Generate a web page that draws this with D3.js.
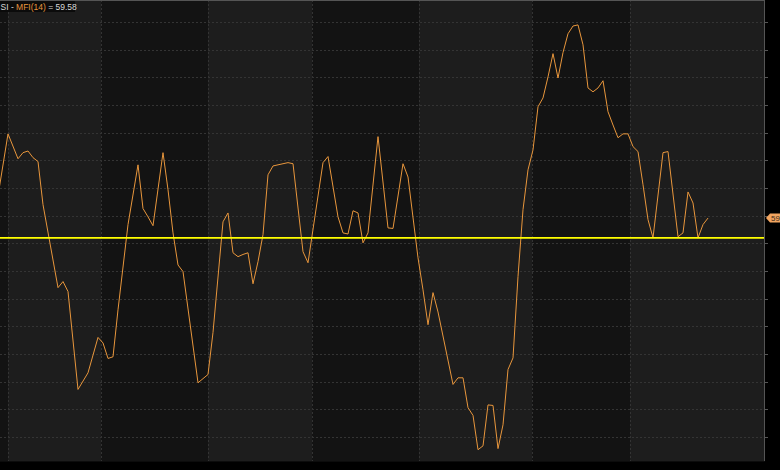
<!DOCTYPE html>
<html><head><meta charset="utf-8">
<script src="https://cdn.jsdelivr.net/npm/d3@7"></script>
<style>html,body{margin:0;padding:0;background:#000;overflow:hidden}svg{display:block}</style>
</head><body><svg id="c" width="780" height="470"></svg>
<script>
// ---- data ----
const dayIdx = [0,2,4,5,6,7,8,9,12,13,14,16,18,20,21,22,23,24,26,28,29,30,31,33,34,35,36,37,40,42,43,45,46,47,48,49,50,51,52,53,54,55,56,57,58,59,61,62,65,66,68,69,70,71,72,73,74,76,78,79,81,82,84,85,86,87,88,91,92,93,94,95,96,97,98,99,100,101,102,103,104,105,106,107,108,109,110,111,112,113,114,115,116,117,118,119,120,121,122,123,124,125,126,127,128,129,130,131,133,134,136,137,138,139,140,141,142];
const mfiValues = [63.6,74.8,70.3,71.4,71.7,70.5,69.8,62.0,47.0,48.1,46.3,28.6,31.6,38.0,37.0,34.2,34.5,43.0,58.4,69.2,61.3,59.8,58.2,71.4,64.7,56.9,51.1,49.9,29.8,31.3,38.9,58.9,60.5,53.3,52.6,53.0,53.3,47.7,51.7,56.6,67.4,69.0,69.2,69.4,69.6,69.4,53.5,51.5,69.6,70.7,59.8,56.9,56.7,60.9,60.5,55.1,56.9,74.3,57.8,57.7,69.4,67.0,52.4,46.6,40.3,46.1,42.6,29.5,30.7,30.7,25.3,23.9,17.7,18.4,25.8,25.7,17.9,22.2,32.2,34.3,49.0,61.1,68.3,71.9,79.7,81.3,85.1,89.3,84.9,89.5,92.9,94.3,94.5,90.9,83.1,82.4,83.1,84.4,78.8,76.4,74.1,74.8,74.8,72.5,71.6,65.6,59.3,56.0,71.4,71.6,56.2,56.9,64.3,62.3,56.0,58.4,59.58];
const monthBreaks = [2, 20.6, 42, 62.8, 84.2, 106.8, 126.4];
const yTicks = [20,25,30,35,40,45,50,55,60,65,70,75,80,85,90,95];
const levelValue = 56;
const lastValue = 59.58;
const titleParts = [{t:"SI - ", c:"#d8d8d8"}, {t:"MFI(14)", c:"#e8963c"}, {t:" = 59.58", c:"#d8d8d8"}];

// ---- layout ----
const W = 764, H = 461;
const svg = d3.select("#c");
const x = d3.scaleLinear().domain([0, 153.2]).range([-2, W]);
const y = d3.scaleLinear().domain([15.66, 99]).range([H, 0]);

svg.append("defs").append("clipPath").attr("id","clip")
  .append("rect").attr("x",0).attr("y",0).attr("width",W).attr("height",H);

const g = svg.append("g").attr("clip-path","url(#clip)");

// alternating month bands
const edges = [0, ...monthBreaks, 153.2];
g.selectAll("rect.band").data(d3.pairs(edges)).join("rect")
  .attr("class","band")
  .attr("x", d => x(d[0])).attr("y",0)
  .attr("width", d => x(d[1]) - x(d[0])).attr("height",H)
  .attr("fill", (d,i) => i % 2 === 0 ? "#131313" : "#1d1d1d");

// horizontal grid
g.selectAll("line.hg").data(yTicks).join("line")
  .attr("class","hg")
  .attr("x1",0).attr("x2",W)
  .attr("y1", d => Math.round(y(d))+0.5).attr("y2", d => Math.round(y(d))+0.5)
  .attr("stroke","#343434").attr("stroke-dasharray","2,2");

// vertical grid at month breaks
g.selectAll("line.vg").data(monthBreaks).join("line")
  .attr("class","vg")
  .attr("x1", d => Math.round(x(d))+0.5).attr("x2", d => Math.round(x(d))+0.5)
  .attr("y1",0).attr("y2",H)
  .attr("stroke","#333333").attr("stroke-dasharray","2,2");

// MFI line
const pts = dayIdx.map((d,i) => [d, mfiValues[i]]);
g.append("path").datum(pts)
  .attr("fill","none").attr("stroke","#e8963c").attr("stroke-width",1)
  .attr("d", d3.line().x(d => x(d[0])).y(d => y(d[1])));

// yellow level line
g.append("line").attr("x1",0).attr("x2",W)
  .attr("y1", y(levelValue)).attr("y2", y(levelValue))
  .attr("stroke","#ffff00").attr("stroke-width",1.8);

// frame
svg.append("line").attr("x1",0).attr("x2",W+1).attr("y1",0.5).attr("y2",0.5).attr("stroke","#555");
svg.append("line").attr("x1",W+0.5).attr("x2",W+0.5).attr("y1",0).attr("y2",H).attr("stroke","#555");
svg.append("line").attr("x1",0).attr("x2",W+1).attr("y1",H+0.5).attr("y2",H+0.5).attr("stroke","#0c0c0c");

// right axis ticks
svg.selectAll("line.rt").data(yTicks).join("line")
  .attr("class","rt")
  .attr("x1",W).attr("x2",W+4)
  .attr("y1", d => Math.round(y(d))+0.5).attr("y2", d => Math.round(y(d))+0.5)
  .attr("stroke","#555");

// title
svg.append("rect").attr("x",0).attr("y",1).attr("width",75).attr("height",11).attr("fill","#0b0b0b");
const tt = svg.append("text").attr("x",0.5).attr("y",9.5)
  .attr("font-family","Liberation Sans, Arial, sans-serif").attr("font-size","8.5px");
titleParts.forEach(p => tt.append("tspan").attr("fill", p.c).text(p.t));

// last value tag
const ty = y(lastValue);
svg.append("path")
  .attr("d", `M${W+2},${ty} L${W+6},${ty-4.5} L780,${ty-4.5} L780,${ty+4.5} L${W+6},${ty+4.5} Z`)
  .attr("fill","#f2a560");
svg.append("text").attr("x",W+7).attr("y",ty+3)
  .attr("font-family","Liberation Sans, Arial, sans-serif").attr("font-size","8px")
  .attr("fill","#3a2a1a").text(lastValue.toFixed(2));
</script></body></html>
